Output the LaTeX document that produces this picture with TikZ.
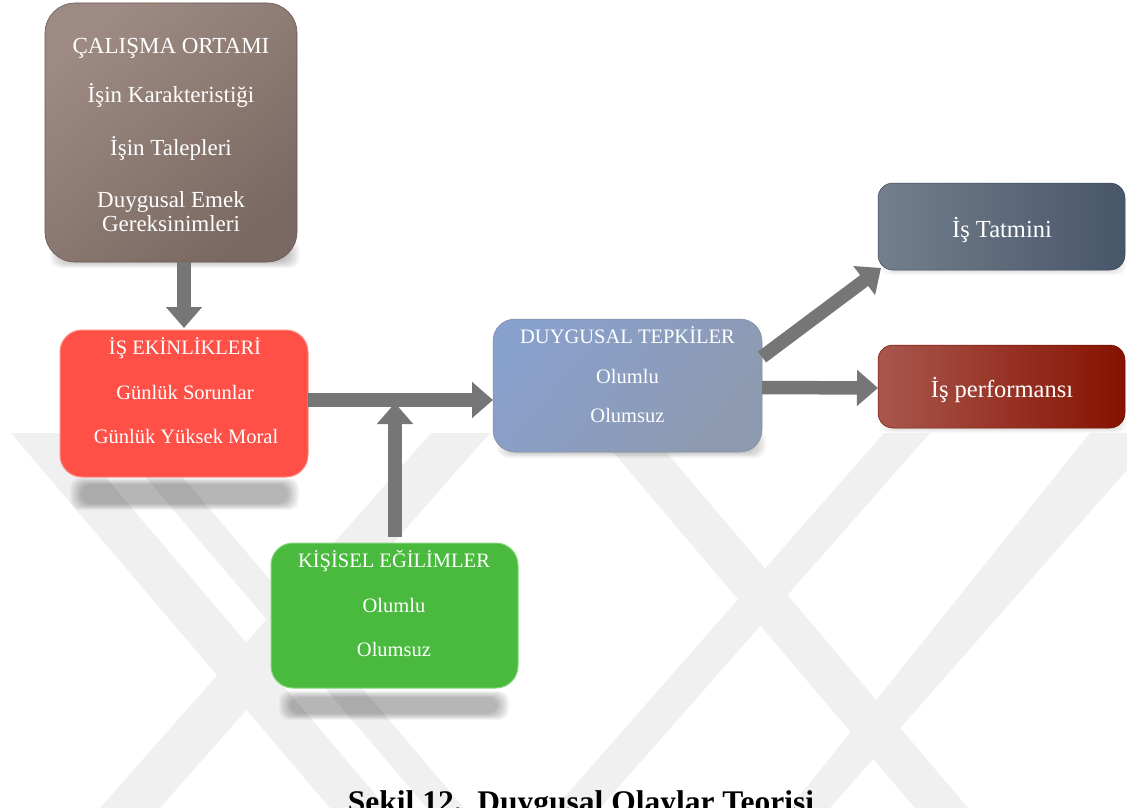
\documentclass[tikz,border=0pt]{standalone}
\usepackage{fontspec}
\setmainfont{Liberation Serif}
\usetikzlibrary{arrows.meta,calc}

\definecolor{envA}{HTML}{9D8B83}
\definecolor{envB}{HTML}{7A6962}
\definecolor{actred}{HTML}{FF5048}
\definecolor{actedge}{HTML}{FF8A84}
\definecolor{emoA}{HTML}{88A0CC}
\definecolor{emoB}{HTML}{8E9AB0}
\definecolor{satA}{HTML}{737F8C}
\definecolor{satB}{HTML}{48566A}
\definecolor{perfA}{HTML}{A9574E}
\definecolor{perfB}{HTML}{861200}
\definecolor{persgreen}{HTML}{49BA3E}
\definecolor{persedge}{HTML}{86D67C}
\definecolor{arrowgray}{HTML}{767676}
\definecolor{arrowedge}{HTML}{A9A9A9}
\definecolor{wmgray}{HTML}{F0F0F0}

% soft blurred patch: x1, y1, x2, y2, opacity step
\newcommand\softpatch[5]{%
  \foreach \k in {0,...,7}{%
    \fill[black, opacity=#5, rounded corners=10pt]
      ($(#1,#2)+(\k*1.6,\k*0.9)$) rectangle ($(#3,#4)-(\k*1.6,\k*0.9)$);
  }%
}

\begin{document}
\begin{tikzpicture}[x=1pt, y=-1pt,
  cardbox/.style={inner sep=0pt, outer sep=0pt},
  lbl/.style={text=white, anchor=base, inner sep=0pt},
  fA/.style={font=\fontsize{23}{27}\selectfont},
  fB/.style={font=\fontsize{20.5}{24}\selectfont},
  fC/.style={font=\fontsize{24.5}{28}\selectfont},
  wm/.style={fill=wmgray},
  bigarrow/.style={draw=arrowgray, line width=13.5pt,
    -{Triangle[width=35pt,length=21pt]}},
]
\useasboundingbox (0,0) rectangle (1127,808);
\fill[white] (0,0) rectangle (1127,808);

% faint striped emblem in the background
\begin{scope}
  \clip (0,433) rectangle (1127,808);
  % left cross
  \fill[wm] (11,433) -- (68,433) -- (387,808) -- (330,808) -- cycle;
  \fill[wm] (108,433) -- (145,433) -- (464,808) -- (427,808) -- cycle;
  \fill[wm] (431,433) -- (490,433) -- (160,808) -- (100,808) -- cycle;
  % right cross
  \fill[wm] (597,433) -- (650,433) -- (968,808) -- (915,808) -- cycle;
  \fill[wm] (884,433) -- (930,433) -- (600,808) -- (555,808) -- cycle;
  \fill[wm] (1090,433) -- (1127,433) -- (1127,470) -- (830,808) -- (790,808) -- cycle;
\end{scope}

% soft reflections below the two flat boxes
\softpatch{70}{478}{299}{510}{0.04}
\softpatch{279}{691}{509}{720}{0.04}

% drop shadows
\softpatch{50}{240}{300}{268}{0.03}
\softpatch{497}{430}{766}{458}{0.03}
\softpatch{880}{250}{1127}{275}{0.025}
\softpatch{880}{408}{1127}{433}{0.025}

% boxes
\node[cardbox, minimum width=252pt, minimum height=259pt, rounded corners=30pt,
      top color=envA, bottom color=envB, shading angle=40,
      draw=envB!85!black, line width=0.6pt] (b1) at (171,132.5) {};
\node[cardbox, minimum width=248pt, minimum height=147pt, rounded corners=22pt,
      fill=actred, draw=actedge, line width=1pt] (b2) at (184,403.5) {};
\node[cardbox, minimum width=269pt, minimum height=133pt, rounded corners=22pt,
      top color=emoA, bottom color=emoB, shading angle=50,
      draw=emoB!90!black, line width=0.5pt] (b3) at (627.5,385.5) {};
\node[cardbox, minimum width=247pt, minimum height=145pt, rounded corners=22pt,
      fill=persgreen, draw=persedge, line width=1pt] (b4) at (394.5,615.5) {};
\node[cardbox, minimum width=247pt, minimum height=87pt, rounded corners=15pt,
      left color=satA, right color=satB,
      draw=satB!85!black, line width=0.5pt] (b5) at (1001.5,226.5) {};
\node[cardbox, minimum width=247pt, minimum height=83pt, rounded corners=15pt,
      left color=perfA, right color=perfB,
      draw=perfB!85!black, line width=0.5pt] (b6) at (1001.5,386.5) {};

% texts
\node[lbl, fA] (t11) at (171,54)  {ÇALIŞMA ORTAMI};
\node[lbl, fA] (t12) at (171,102) {İşin Karakteristiği};
\node[lbl, fA] (t13) at (171,155) {İşin Talepleri};
\node[lbl, fA] (t14) at (171,207) {Duygusal Emek};
\node[lbl, fA] (t15) at (171,231) {Gereksinimleri};

\node[lbl, fB] (t21) at (185,354) {İŞ EKİNLİKLERİ};
\node[lbl, fB] (t22) at (185,399) {Günlük Sorunlar};
\node[lbl, fB] (t23) at (186,443) {Günlük Yüksek Moral};

\node[lbl, fB] (t31) at (627.5,343) {DUYGUSAL TEPKİLER};
\node[lbl, fB] (t32) at (627.5,383) {Olumlu};
\node[lbl, fB] (t33) at (627.5,422) {Olumsuz};

\node[lbl, fB] (t41) at (394,567) {KİŞİSEL EĞİLİMLER};
\node[lbl, fB] (t42) at (394,612) {Olumlu};
\node[lbl, fB] (t43) at (394,656) {Olumsuz};

\node[lbl, fC] (t51) at (1002,237) {İş Tatmini};
\node[lbl, fC] (t61) at (1002,397) {İş performansı};

% connectors
\coordinate (j) at (395,400);
\draw[bigarrow] (b1.south -| b2.north) -- ([yshift=2pt]b2.north);
\draw[bigarrow] (b2.east |- j) -- (b3.west |- j);
\draw[bigarrow] ([yshift=6pt]b4.north -| j) -- ([yshift=-3pt]j);
\draw[bigarrow] ([yshift=-38pt]b3.north east) -- ([xshift=3pt,yshift=2pt]b5.south west);
\draw[bigarrow] ([yshift=-2pt]b3.east) -- ([yshift=-1.5pt]b6.west);

% caption
\node[anchor=base, inner sep=0pt, font=\bfseries\fontsize{31.5}{36}\selectfont]
  (cap) at (581,812) {Şekil 12.\ \ Duygusal Olaylar Teorisi};
\end{tikzpicture}
\end{document}
